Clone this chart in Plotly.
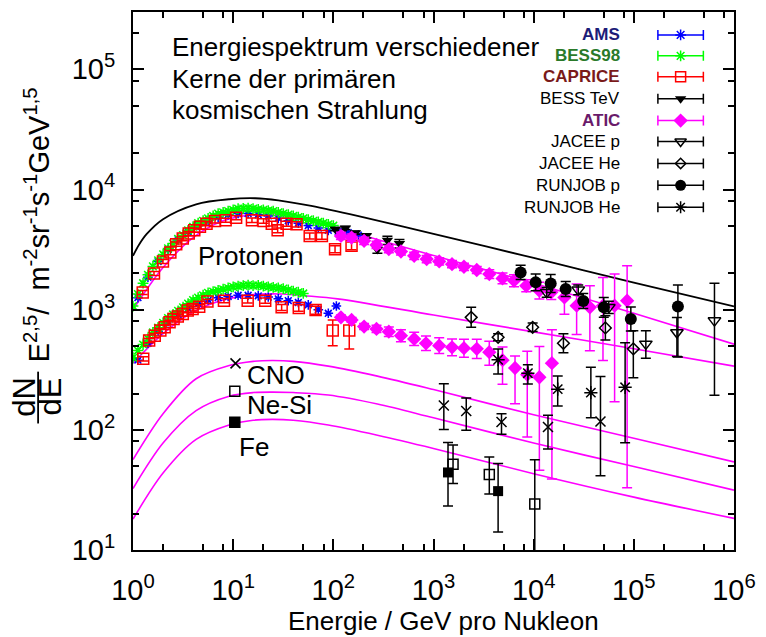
import plotly.graph_objects as go

FONT = "Liberation Sans, Arial, Helvetica, sans-serif"

# ---------------------------------------------------------------------------
# Model curves  (E in GeV per nucleon, flux scaled with E^2.5)
# ---------------------------------------------------------------------------
total_E = [1, 1.148, 1.365, 1.995, 4.266, 9.12, 16.6, 28.2, 60.3, 174, 1000, 1e4, 1e5, 1e6]
total_F = [2805, 3467, 4246, 5662, 7534, 8299, 8453, 8128, 7295, 6026, 4266, 2692, 1679, 1064]

p_fit_E = [1, 1.995, 3.981, 7.943, 15.85, 31.62, 63.1, 233.9, 1000, 1e4, 1e5, 1e6]
p_fit_F = [1000, 2239, 3981, 5495, 6166, 6026, 5370, 3981, 2818, 1660, 933, 516]

he_fit_E = [1, 1.995, 3.981, 7.943, 15.85, 31.62, 51.9, 110.4, 1000, 1e4, 1e5, 1e6]
he_fit_F = [358, 631, 955, 1202, 1334, 1349, 1306, 1230, 902, 653, 473, 339]

heavy_fit_E = [1, 1.995, 4.266, 9.12, 15.85, 24.55, 39.81, 89.1, 275.4, 1000, 1e4, 1e5, 1e6]
cno_fit_F = [56.6, 136.1, 266.1, 342.8, 371.5, 377.6, 371.5, 338.8, 279.9, 216.3, 133.4, 85.1, 54.1]
nesi_fit_F = [32.5, 77.6, 144.5, 190.5, 204.2, 206.1, 204.2, 195.0, 164.1, 125.9, 77.6, 49.5, 31.5]
fe_fit_F = [18.07, 43.65, 83.2, 109.6, 120.2, 122.2, 120.2, 109.6, 90.2, 70.0, 43.15, 27.54, 18.32]

# ---------------------------------------------------------------------------
# Measurements - protons
# ---------------------------------------------------------------------------
ams_p_E = [1.12, 1.41, 1.78, 2.24, 2.82, 3.55, 4.47, 5.62, 7.08, 8.91, 11.2, 14.1,
           17.8, 22.4, 28.2, 35.5, 44.7, 56.2, 70.8, 89.1, 112, 141, 178]
ams_p_F = [1259, 1862, 2512, 3162, 3802, 4467, 5012, 5495, 5888, 6166, 6310, 6310,
           6166, 6026, 5754, 5495, 5248, 5012, 4786, 4571, 4467, 4365, 4169]

bess_p_E = [1.00, 1.12, 1.26, 1.41, 1.58, 1.78, 2.00, 2.24, 2.51, 2.82, 3.16, 3.55, 3.98,
            4.47, 5.01, 5.62, 6.31, 7.08, 7.94, 8.91, 10.0, 11.2, 12.6, 14.1, 15.8, 17.8,
            20.0, 22.4, 25.1, 28.2, 31.6, 35.5, 39.8, 44.7, 50.1, 56.2, 63.1, 70.8, 79.4,
            89.1, 100]
bess_p_F = [1072, 1349, 1660, 1950, 2291, 2570, 2884, 3236, 3548, 3890, 4169, 4571, 4898,
            5248, 5495, 5754, 6026, 6310, 6457, 6607, 6761, 6918, 6950, 6998, 6918, 6839,
            6761, 6683, 6607, 6457, 6310, 6166, 6026, 5888, 5754, 5623, 5495, 5370, 5248,
            5129, 5012]

caprice_p_E = [1.25, 1.62, 1.99, 2.36, 2.70, 3.14, 3.60, 4.09, 4.66, 5.42, 6.59, 8.41,
               10.7, 15.4, 20.1, 24.3, 27.8, 34.1, 42.9, 58.1, 76.9, 104, 152]
caprice_p_F = [1390, 2000, 2520, 2990, 3510, 3910, 4300, 4580, 4890, 5200, 5480, 5550,
               5830, 5550, 5480, 5200, 4580, 5200, 5140, 4110, 4110, 3190, 3400]
caprice_p_err = [55, 80, 100, 120, 140, 160, 170, 180, 195, 210, 220, 220,
                 230, 230, 230, 230, 210, 250, 260, 230, 250, 220, 250]

besstev_E = [104.7, 131.8, 166.0, 213.8, 275.4, 346.7, 457.1]
besstev_F = [4677, 4786, 4365, 4121, 3162, 3784, 3548]
besstev_err = [140, 145, 130, 165, 220, 300, 285]

atic_p_E = [119.1, 152.1, 202.8, 269.8, 358.1, 473.2, 641.2, 855.1, 1140, 1531, 2014, 2704,
            3606, 4887, 6368, 8433, 11400, 15000, 20280, 26850, 36390, 49200, 64270, 85700]
atic_p_F = [4111, 3981, 3741, 3459, 3192, 3048, 2805, 2636, 2518, 2393, 2275, 2138,
            1977, 1820, 1742, 1581, 1439, 1393, 1265, 1079, 1045, 1079, 1079, 1189]
atic_p_up = [296, 287, 269, 249, 230, 219, 202, 190, 181, 172, 164, 154,
             170, 198, 213, 193, 252, 206, 221, 555, 537, 775, 898, 1130]
atic_p_dn = [275, 267, 251, 232, 214, 204, 188, 177, 169, 160, 152, 143,
             158, 178, 190, 172, 214, 180, 349, 459, 589, 701, 908, 1156]

jacee_p_E = [13490, 27860, 56230, 131800, 269200, 638300]
jacee_p_F = [1393, 1462, 1045, 519, 646, 811]
jacee_p_up = [134, 140, 128, 150, 216, 845]
jacee_p_dn = [123, 128, 114, 125, 238, 617]

runjob_p_E = [7413, 10470, 14790, 20890, 31260, 50120, 93330, 275400]
runjob_p_F = [2042, 1687, 1652, 1486, 1180, 1045, 837, 1064]
runjob_p_up = [302, 295, 312, 227, 181, 220, 217, 540]
runjob_p_dn = [263, 251, 263, 198, 157, 182, 172, 660]

# ---------------------------------------------------------------------------
# Measurements - helium
# ---------------------------------------------------------------------------
ams_he_E = [1.12, 1.41, 1.78, 2.24, 2.82, 3.55, 4.47, 5.62, 7.08, 8.91, 11.2, 14.1,
            17.8, 22.4, 28.2, 35.5, 44.7, 56.2, 70.8, 89.1, 107.2]
ams_he_F = [380, 525, 661, 794, 912, 1023, 1122, 1202, 1259, 1288, 1318, 1318,
            1303, 1274, 1230, 1189, 1148, 1096, 1000, 933, 1072]

bess_he_E = [1.00, 1.12, 1.26, 1.41, 1.58, 1.78, 2.00, 2.24, 2.51, 2.82, 3.16, 3.55, 3.98,
             4.47, 5.01, 5.62, 6.31, 7.08, 7.94, 8.91, 10.0, 11.2, 12.6, 14.1, 15.8, 17.8,
             20.0, 22.4, 25.1, 28.2, 31.6, 35.5, 39.8, 44.7, 50.1]
bess_he_F = [398, 457, 513, 575, 646, 708, 776, 851, 912, 977, 1047, 1122, 1202,
             1259, 1318, 1380, 1413, 1445, 1479, 1514, 1549, 1567, 1585, 1600, 1585, 1590,
             1567, 1549, 1531, 1514, 1496, 1462, 1429, 1396, 1365]

caprice_he_E = [1.265, 1.449, 1.648, 1.875, 2.070, 2.317, 2.541, 2.799, 3.141, 3.516, 3.936,
                4.581, 5.534, 8.091, 13.96, 20.89, 30.48, 45.19, 66.53, 98.6, 144.2]
caprice_he_F = [390, 553, 608, 670, 713, 785, 838, 879, 920, 982, 1014,
                1059, 1172, 1189, 1189, 1189, 1045, 1033, 993, 670, 670]
caprice_he_up = [16, 22, 24, 27, 29, 31, 34, 35, 37, 39, 41,
                 42, 47, 50, 55, 60, 60, 65, 75, 150, 170]
caprice_he_dn = [16, 22, 24, 27, 29, 31, 34, 35, 37, 39, 41,
                 42, 47, 50, 55, 60, 60, 65, 75, 170, 200]

atic_he_E = [119.1, 152.1, 202.8, 269.8, 358.1, 473.2, 641.2, 841.4, 1140, 1531, 2014, 2704,
             3606, 4887, 6516, 8630, 11400, 15210]
atic_he_F = [863, 822, 723, 692, 656, 608, 571, 525, 502, 486, 478, 472,
             443, 380, 327, 288, 274, 359]
atic_he_up = [41, 39, 43, 49, 63, 74, 77, 78, 81, 85, 90, 95, 102, 109, 85, 163, 219, 320]
atic_he_dn = [39, 37, 40, 46, 58, 66, 68, 68, 70, 72, 76, 79, 99, 140, 162, 201, 228, 320]

jacee_he_E = [2377, 4416, 9772, 19820, 52000, 98860]
jacee_he_F = [863, 589, 713, 525, 705, 472]
jacee_he_up = [182, 42, 60, 106, 183, 195]
jacee_he_dn = [150, 39, 55, 88, 145, 201]

runjob_he_E = [4416, 8750, 17380, 37240, 81850]
runjob_he_F = [383, 296, 218, 204, 226]
runjob_he_up = [88, 52, 63, 127, 304]
runjob_he_dn = [92, 55, 60, 78, 148]

# ---------------------------------------------------------------------------
# Measurements - heavier nuclei
# ---------------------------------------------------------------------------
cno_E = [1268, 2123, 4775, 13900, 46450]
cno_F = [159.6, 143.2, 116.1, 105.4, 117.5]
cno_up = [82, 41, 20, 27, 161]
cno_dn = [59, 44, 24, 36, 76]

nesi_E = [1567, 3606, 10260]
nesi_F = [51.8, 42.5, 24.1]
nesi_up = [23, 17, 32.4]
nesi_dn = [16, 13.3, 23.5]

fe_E = [1396, 4416]
fe_F = [44.2, 30.9]
fe_up = [34.4, 21.6]
fe_dn = [21.0, 16.8]

# ---------------------------------------------------------------------------
BLUE, GREEN, RED, MAG, BLACK = "#0000ff", "#00ff00", "#ff0000", "#ff00ff", "#000000"

fig = go.Figure()


def curve(E, F, color, width=1.6):
    fig.add_trace(go.Scatter(
        x=E, y=F, mode="lines", showlegend=False, hoverinfo="skip",
        line=dict(color=color, width=width, shape="spline", smoothing=0.9)))


def points(E, F, symbol, color, size, up=None, dn=None, pct=None, lw=1.5,
           xaxis="x", yaxis="y"):
    err = None
    if up is not None:
        err = dict(type="data", symmetric=False, array=up, arrayminus=dn,
                   color=color, thickness=1.5, width=5)
    elif pct is not None:
        err = dict(type="percent", value=pct, color=color, thickness=1.2, width=3)
    fig.add_trace(go.Scatter(
        x=E, y=F, mode="markers", showlegend=False, hoverinfo="skip",
        xaxis=xaxis, yaxis=yaxis, error_y=err, cliponaxis=True,
        marker=dict(symbol=symbol, size=size, color=color,
                    line=dict(color=color, width=lw))))


# model curves
curve(total_E, total_F, BLACK, 1.8)
curve(p_fit_E, p_fit_F, MAG)
curve(he_fit_E, he_fit_F, MAG)
curve(heavy_fit_E, cno_fit_F, MAG)
curve(heavy_fit_E, nesi_fit_F, MAG)
curve(heavy_fit_E, fe_fit_F, MAG)

# low-energy spectrometers
points(ams_p_E, ams_p_F, "asterisk-open", BLUE, 8, pct=3)
points(ams_he_E, ams_he_F, "asterisk-open", BLUE, 8, pct=3)
points(bess_p_E, bess_p_F, "asterisk-open", GREEN, 9, pct=4)
points(bess_he_E, bess_he_F, "asterisk-open", GREEN, 9, pct=4)
points(caprice_p_E, caprice_p_F, "square-open", RED, 11,
       up=caprice_p_err, dn=caprice_p_err)
points(caprice_he_E, caprice_he_F, "square-open", RED, 11,
       up=caprice_he_up, dn=caprice_he_dn)
points(besstev_E, besstev_F, "triangle-down", BLACK, 10,
       up=besstev_err, dn=besstev_err, lw=0)

# balloon experiments
points(atic_p_E, atic_p_F, "diamond", MAG, 11, up=atic_p_up, dn=atic_p_dn, lw=0)
points(atic_he_E, atic_he_F, "diamond", MAG, 11, up=atic_he_up, dn=atic_he_dn, lw=0)
points(jacee_p_E, jacee_p_F, "triangle-down-open", BLACK, 11, up=jacee_p_up, dn=jacee_p_dn)
points(jacee_he_E, jacee_he_F, "diamond-open", BLACK, 9, up=jacee_he_up, dn=jacee_he_dn)
points(runjob_p_E, runjob_p_F, "circle", BLACK, 12, up=runjob_p_up, dn=runjob_p_dn, lw=0)
points(runjob_he_E, runjob_he_F, "asterisk-open", BLACK, 11,
       up=runjob_he_up, dn=runjob_he_dn)
points(cno_E, cno_F, "x-thin-open", BLACK, 10, up=cno_up, dn=cno_dn)
points(nesi_E, nesi_F, "square-open", BLACK, 10, up=nesi_up, dn=nesi_dn)
points(fe_E, fe_F, "square", BLACK, 10, up=fe_up, dn=fe_dn, lw=0)

# ---------------------------------------------------------------------------
# Key: right-aligned names with a horizontal error-bar sample
# (drawn on an overlay axis measured in pixels of the plot area)
# ---------------------------------------------------------------------------
L, R, T, B = 133, 741, 10, 550
W, H = 766, 637

legend_names = ["AMS", "BESS98", "CAPRICE", "BESS TeV", "ATIC",
                "JACEE p", "JACEE He", "RUNJOB p", "RUNJOB He"]
legend_rows = [33, 54, 75, 97, 119, 140, 162, 184, 206]
legend_style = [
    ("asterisk-open", BLUE, 9, "#1c1c78", True),
    ("asterisk-open", GREEN, 9, "#2a7a2a", True),
    ("square-open", RED, 10, "#7a1a1a", True),
    ("triangle-down", BLACK, 10, BLACK, False),
    ("diamond", MAG, 11, "#6a1a6a", True),
    ("triangle-down-open", BLACK, 10, BLACK, False),
    ("diamond-open", BLACK, 8, BLACK, False),
    ("circle", BLACK, 11, BLACK, False),
    ("asterisk-open", BLACK, 10, BLACK, False),
]

annotations = []
for name, yrow, (sym, col, size, tcol, bold) in zip(legend_names, legend_rows, legend_style):
    fig.add_trace(go.Scatter(
        x=[687], y=[yrow], xaxis="x2", yaxis="y2", mode="markers",
        showlegend=False, hoverinfo="skip",
        error_x=dict(type="constant", value=23, color=col, thickness=1.5, width=5),
        marker=dict(symbol=sym, size=size, color=col,
                    line=dict(color=col, width=0 if sym in ("triangle-down", "diamond", "circle") else 1.5))))
    annotations.append(dict(
        x=628, y=yrow, xref="x2", yref="y2", xanchor="right", yanchor="middle",
        text=f"<b>{name}</b>" if bold else name, showarrow=False,
        font=dict(family=FONT, size=17, color=tcol)))

# symbols next to the nuclei names
fig.add_trace(go.Scatter(
    x=[236.7, 236, 236], y=[362.7, 390.7, 421.7], xaxis="x2", yaxis="y2",
    mode="markers", showlegend=False, hoverinfo="skip",
    marker=dict(symbol=["x-thin-open", "square-open", "square"], size=10,
                color=BLACK, line=dict(color=BLACK, width=1.5))))

# text inside the plot
in_plot_text = [
    ("Energiespektrum verschiedener", 170, 45, "left"),
    ("Kerne der primären", 170, 77, "left"),
    ("kosmischen Strahlung", 170, 108, "left"),
    ("Protonen", 252.5, 255, "center"),
    ("Helium", 252.5, 327, "center"),
    ("CNO", 246, 374, "left"),
    ("Ne-Si", 246, 404, "left"),
    ("Fe", 238, 447, "left"),
]
for txt, xp, yp, anchor in in_plot_text:
    annotations.append(dict(
        x=xp, y=yp, xref="x2", yref="y2", xanchor=anchor, yanchor="middle",
        text=txt, showarrow=False, font=dict(family=FONT, size=26, color=BLACK)))


def px(xpix):
    return (xpix - L) / (R - L)


def py(ypix):
    return (B - ypix) / (B - T)


# axis titles
annotations.append(dict(
    x=px(447), y=py(621), xref="paper", yref="paper", xanchor="center", yanchor="middle",
    text="Energie / GeV pro Nukleon", showarrow=False,
    font=dict(family=FONT, size=26, color=BLACK)))
annotations.append(dict(
    x=px(23), y=py(396), xref="paper", yref="paper", xanchor="center", yanchor="middle",
    text="dN", textangle=-90, showarrow=False,
    font=dict(family=FONT, size=31, color=BLACK)))
annotations.append(dict(
    x=px(50), y=py(396), xref="paper", yref="paper", xanchor="center", yanchor="middle",
    text="dE", textangle=-90, showarrow=False,
    font=dict(family=FONT, size=31, color=BLACK)))
annotations.append(dict(
    x=px(36), y=py(224), xref="paper", yref="paper", xanchor="center", yanchor="middle",
    text="E<sup>2,5</sup>/  m<sup>-2</sup>sr<sup>-1</sup>s<sup>-1</sup>GeV<sup>1,5</sup>",
    textangle=-90, showarrow=False,
    font=dict(family=FONT, size=29, color=BLACK)))

shapes = [dict(type="line", xref="paper", yref="paper",
               x0=px(37), x1=px(37), y0=py(371), y1=py(423),
               line=dict(color=BLACK, width=1.8))]

# ---------------------------------------------------------------------------
decades_x = [1, 10, 100, 1e3, 1e4, 1e5, 1e6]
decades_y = [10, 100, 1e3, 1e4, 1e5]
minor_x = [m * d for d in decades_x[:-1] for m in (2, 5, 8)]
minor_y = [m * d for d in decades_y for m in (2, 5, 8) if m * d <= 3e5]

axis_common = dict(
    showline=True, linecolor=BLACK, linewidth=2, mirror="allticks",
    ticks="inside", ticklen=11, tickwidth=1.5, tickcolor=BLACK,
    showgrid=False, zeroline=False,
    tickfont=dict(family=FONT, size=29, color=BLACK),
)

fig.update_layout(
    width=W, height=H,
    margin=dict(l=L, r=W - R, t=T, b=H - B, pad=0),
    paper_bgcolor="white", plot_bgcolor="white",
    showlegend=False,
    xaxis=dict(type="log", range=[0, 6], tickvals=decades_x,
               ticktext=[f"10<sup>{i}</sup>" for i in range(7)],
               ticklabelstandoff=13,
               minor=dict(tickvals=minor_x, ticks="inside", ticklen=6,
                          tickwidth=1.5, tickcolor=BLACK, showgrid=False),
               **axis_common),
    yaxis=dict(type="log", range=[1, 5.4771], tickvals=decades_y,
               ticktext=[f"10<sup>{i}</sup>" for i in range(1, 6)],
               ticklabelstandoff=10,
               minor=dict(tickvals=minor_y, ticks="inside", ticklen=6,
                          tickwidth=1.5, tickcolor=BLACK, showgrid=False),
               **axis_common),
    xaxis2=dict(overlaying="x", range=[L, R], visible=False, anchor="y2", fixedrange=True),
    yaxis2=dict(overlaying="y", range=[B, T], visible=False, anchor="x2", fixedrange=True),
    annotations=annotations,
    shapes=shapes,
)

fig.write_html("out.html")
